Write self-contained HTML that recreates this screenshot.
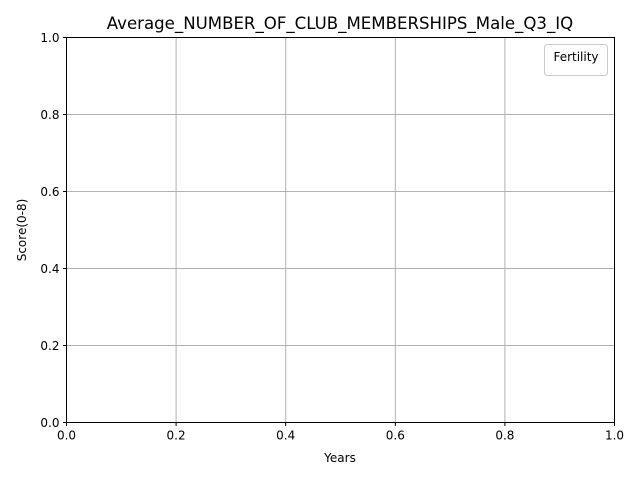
<!DOCTYPE html>
<html><head><meta charset="utf-8"><style>
body{margin:0;background:#fff;width:640px;height:480px;overflow:hidden;font-family:"Liberation Sans","DejaVu Sans",sans-serif}
</style></head><body>
<svg id="chart" width="640" height="480" xmlns="http://www.w3.org/2000/svg" font-family="'DejaVu Sans','Liberation Sans',sans-serif">
<rect width="640" height="480" fill="#fff"/>
<g id="grid"></g>
<rect x="66.5" y="37.5" width="548" height="385" fill="none" stroke="#000" stroke-width="1"/>
<g id="ticks"></g>
<text x="340" y="29" font-size="16.6" text-anchor="middle">Average_NUMBER_OF_CLUB_MEMBERSHIPS_Male_Q3_IQ</text>
<text x="340" y="462" font-size="12" text-anchor="middle">Years</text>
<text transform="translate(26,230) rotate(-90)" font-size="12" text-anchor="middle">Score(0-8)</text>
<g>
<rect x="544.5" y="44.5" width="63" height="31" rx="3" fill="#fff" fill-opacity="0.8" stroke="#ccc"/>
<text x="576" y="61" font-size="12" text-anchor="middle">Fertility</text>
</g>
</svg>
<script>
const xTicks=[0.0,0.2,0.4,0.6,0.8,1.0];
const yTicks=[0.0,0.2,0.4,0.6,0.8,1.0];
const X0=66.5,X1=614.5,Y0=422.5,Y1=37.5;
const xs=v=>X0+(X1-X0)*v, ys=v=>Y0+(Y1-Y0)*v;
const NS="http://www.w3.org/2000/svg";
const grid=document.getElementById('grid'),ticks=document.getElementById('ticks');
function mk(t,a,p){const e=document.createElementNS(NS,t);for(const k in a)e.setAttribute(k,a[k]);p.appendChild(e);return e;}
xTicks.forEach(v=>{const x=xs(v);
const g=mk('line',{x1:x,x2:x,y1:Y1,y2:Y0,stroke:'#b0b0b0','stroke-width':1},grid);


const t=mk('line',{x1:x,x2:x,y1:Y0,y2:Y0+3.5,stroke:'#000'},ticks);


const l=mk('text',{x:x,y:Y0+17,'font-size':12,'text-anchor':'middle'},ticks);l.textContent=v.toFixed(1);

});
yTicks.forEach(v=>{const y=ys(v);
const g=mk('line',{x1:X0,x2:X1,y1:y,y2:y,stroke:'#b0b0b0','stroke-width':1},grid);


const t=mk('line',{x1:X0-3.5,x2:X0,y1:y,y2:y,stroke:'#000'},ticks);


const l=mk('text',{x:X0-7,y:y+4.5,'font-size':12,'text-anchor':'end'},ticks);l.textContent=v.toFixed(1);

});
</script>
</body></html>
